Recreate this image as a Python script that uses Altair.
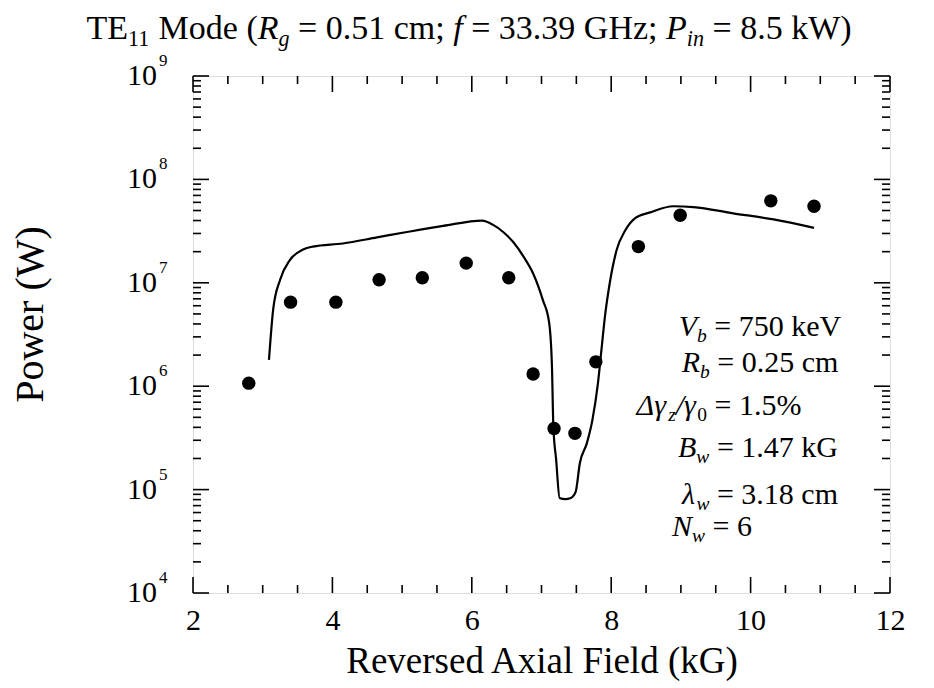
import altair as alt
import pandas as pd

# ---------------- data ----------------
# measured points (kG, W)
field_pts = [2.8, 3.4, 4.05, 4.67, 5.29, 5.92, 6.53, 6.88, 7.18, 7.48, 7.78, 8.39, 8.99, 10.29, 10.91]
power_pts = [1.07e6, 6.5e6, 6.5e6, 1.07e7, 1.12e7, 1.55e7, 1.12e7, 1.31e6, 3.9e5, 3.5e5,
             1.72e6, 2.24e7, 4.5e7, 6.2e7, 5.5e7]

# simulation curve (kG, W)
field_sim = [3.09, 3.15, 3.25, 3.39, 3.58, 3.72, 4.15, 4.64, 5.07, 5.59, 6.15, 6.3, 6.45, 6.6,
             6.74, 6.88, 7.02, 7.11, 7.15, 7.17, 7.21, 7.26, 7.34, 7.42, 7.49, 7.55, 7.65, 7.73,
             7.81, 7.86, 7.91, 7.98, 8.08, 8.20, 8.34, 8.56, 8.89, 9.18, 9.75, 10.33, 10.91]
power_sim = [1.8e6, 5.5e6, 1.07e7, 1.66e7, 2.1e7, 2.24e7, 2.4e7, 2.75e7, 3.1e7, 3.55e7, 4.0e7,
             3.65e7, 3.1e7, 2.45e7, 1.8e7, 1.23e7, 6.8e6, 4.1e6, 1.55e6, 4.1e5, 1.95e5, 8.3e4,
             8.1e4, 8.3e4, 9.5e4, 1.8e5, 2.8e5, 4.7e5, 1.07e6, 2.24e6, 4.7e6, 1.0e7, 2.1e7,
             3.2e7, 4.2e7, 4.8e7, 5.5e7, 5.4e7, 4.7e7, 4.1e7, 3.4e7]

# axis ticks
x_major = [2, 4, 6, 8, 10, 12]
x_minor = [2.5, 3, 3.5, 4.5, 5, 5.5, 6.5, 7, 7.5, 8.5, 9, 9.5, 10.5, 11, 11.5]
y_exponents = [4, 5, 6, 7, 8, 9]
y_minor_mult = [2, 3, 4, 5, 6, 7, 8, 9]

# text
title_segs = [("TE", "r"), ("11", "sub"), (" Mode (", "r"), ("R", "i"), ("g", "isub"),
              (" = 0.51 cm; ", "r"), ("f", "i"), (" = 33.39 GHz; ", "r"), ("P", "i"),
              ("in", "isub"), (" = 8.5 kW)", "r")]
note_lines = [
    [("V", "i"), ("b", "isub"), (" = 750 keV", "r")],
    [("R", "i"), ("b", "isub"), (" = 0.25 cm", "r")],
    [("\u0394\u03b3", "i"), ("z", "isub"), ("/\u03b3", "i"), ("0", "sub"), (" = 1.5%", "r")],
    [("B", "i"), ("w", "isub"), (" = 1.47 kG", "r")],
    [("\u03bb", "i"), ("w", "isub"), (" = 3.18 cm", "r")],
    [("N", "i"), ("w", "isub"), (" = 6", "r")],
]

# ---------------- layout ----------------
FONT = "Liberation Serif"
W, H = 697, 517

REG = {' ': 250, '(': 333, ')': 333, ';': 278, '=': 564, '.': 250, '%': 833, '/': 278,
       'T': 611, 'E': 611, 'M': 889, 'G': 722, 'H': 722, 'W': 944, 'V': 722,
       'o': 500, 'd': 500, 'e': 444, 'c': 444, 'm': 778, 'z': 444, 'k': 500, 'i': 278,
       'n': 500, 'b': 500, 'w': 722, 'g': 500}
ITA = {'R': 611, 'g': 500, 'f': 278, 'P': 611, 'i': 278, 'n': 500, 'V': 611, 'b': 500,
       'B': 611, 'w': 667, 'N': 667, 'z': 389, '\u0394': 612, '\u03b3': 440, '\u03bb': 480,
       '/': 278}


def layout(segs, fs, cx, base):
    items, pos = [], 0.0
    for txt, kind in segs:
        sub = kind in ("sub", "isub")
        ital = kind in ("i", "isub")
        size = fs * 0.65 if sub else fs
        table = ITA if ital else REG
        widths = [table.get(ch, 500) / 1000.0 * size for ch in txt]
        n_lead = len(txt) - len(txt.lstrip(" "))
        items.append(dict(px=pos + sum(widths[:n_lead]), txt=txt.strip(" "), fs=size,
                          ital=ital, py=base + (fs * 0.2 if sub else 0.0)))
        pos += sum(widths)
    for it in items:
        it["px"] += cx - pos / 2.0
    return items


pieces = layout(title_segs, 34, 276, -37)
note_cx = [567, 567, 526, 565, 567, 519]
note_base = [260, 296, 339, 381, 428, 460]
for segs, cx, b in zip(note_lines, note_cx, note_base):
    pieces += layout(segs, 30, cx, b)
txt_df = pd.DataFrame(pieces)

pts = pd.DataFrame({"field": field_pts, "power": power_pts})
sim = pd.DataFrame({"field": field_sim, "power": power_sim})
xmaj = pd.DataFrame({"v": x_major})
xmin = pd.DataFrame({"v": x_minor})
ymaj = pd.DataFrame({"v": [10.0 ** e for e in y_exponents], "e": [str(e) for e in y_exponents]})
ymin = pd.DataFrame({"v": [m * 10.0 ** e for e in y_exponents[:-1] for m in y_minor_mult]})

xs = alt.Scale(domain=[2, 12], nice=False, zero=False)
ys = alt.Scale(type="log", domain=[1e4, 1e9], nice=False)

x_axis = alt.Axis(values=x_major, format="d", labelFont=FONT, labelFontSize=30, labelColor="black",
                  labelPadding=12, labelFlush=False, labelOverlap=False, ticks=False, tickSize=0,
                  domain=False, grid=False, title="Reversed Axial Field (kG)", titleFont=FONT,
                  titleFontSize=37, titleFontWeight="normal", titleColor="black", titleY=79,
                  titleBaseline="alphabetic")
y_axis = alt.Axis(labels=False, ticks=False, tickSize=0, domain=False, grid=False,
                  title="Power (W)", titleFont=FONT, titleFontSize=40, titleFontWeight="normal",
                  titleColor="black", titleAngle=270, titleX=-151, titleY=238,
                  titleAlign="center", titleBaseline="alphabetic")

line = alt.Chart(sim).mark_line(color="black", strokeWidth=2.2, interpolate="monotone").encode(
    x=alt.X("field:Q", scale=xs, axis=None), y=alt.Y("power:Q", scale=ys, axis=None))
points = alt.Chart(pts).mark_circle(size=180, color="black", opacity=1).encode(
    x=alt.X("field:Q", scale=xs, axis=x_axis), y=alt.Y("power:Q", scale=ys, axis=y_axis))

MAJ, MIN, TW = 16, 8, 1.6
def xticks(df, ln):
    bot = alt.Chart(df).mark_rule(color="black", strokeWidth=TW).encode(
        x=alt.X("v:Q", scale=xs, axis=None), y=alt.value(H), y2=alt.value(H - ln))
    top = alt.Chart(df).mark_rule(color="black", strokeWidth=TW).encode(
        x=alt.X("v:Q", scale=xs, axis=None), y=alt.value(0), y2=alt.value(ln))
    return [bot, top]
def yticks(df, ln):
    lef = alt.Chart(df).mark_rule(color="black", strokeWidth=TW).encode(
        y=alt.Y("v:Q", scale=ys, axis=None), x=alt.value(0), x2=alt.value(ln))
    rig = alt.Chart(df).mark_rule(color="black", strokeWidth=TW).encode(
        y=alt.Y("v:Q", scale=ys, axis=None), x=alt.value(W), x2=alt.value(W - ln))
    return [lef, rig]

ylab10 = alt.Chart(ymaj).mark_text(text="10", font=FONT, fontSize=30, align="right",
                                   baseline="middle", color="black").encode(
    y=alt.Y("v:Q", scale=ys, axis=None), x=alt.value(-36))
ylabexp = alt.Chart(ymaj).mark_text(font=FONT, fontSize=17, align="left", baseline="alphabetic",
                                    dy=-10, color="black").encode(
    y=alt.Y("v:Q", scale=ys, axis=None), x=alt.value(-34), text="e:N")

def text_layer(ital):
    return alt.Chart(txt_df).transform_filter(
        alt.datum.ital if ital else ~alt.datum.ital
    ).mark_text(font=FONT, fontStyle="italic" if ital else "normal", align="left",
                baseline="alphabetic", color="black").encode(
        x=alt.X("px:Q", scale=None, axis=None), y=alt.Y("py:Q", scale=None, axis=None),
        size=alt.Size("fs:Q", scale=None, legend=None), text="txt:N")

layers = [line, points] + xticks(xmaj, MAJ) + xticks(xmin, MIN) + yticks(ymaj, MAJ) + \
    yticks(ymin, MIN) + [ylab10, ylabexp, text_layer(False), text_layer(True)]

chart = alt.layer(*layers).resolve_scale(
    x="independent", y="independent", size="independent"
).properties(
    width=W, height=H,
    padding={"left": 185, "top": 68, "right": 30, "bottom": 92},
    autosize=alt.AutoSizeParams(type="none"),
).configure_view(stroke="black", strokeWidth=2).configure(font=FONT, background="white")

chart.save("out.html", embed_options={"renderer": "svg", "actions": False})
